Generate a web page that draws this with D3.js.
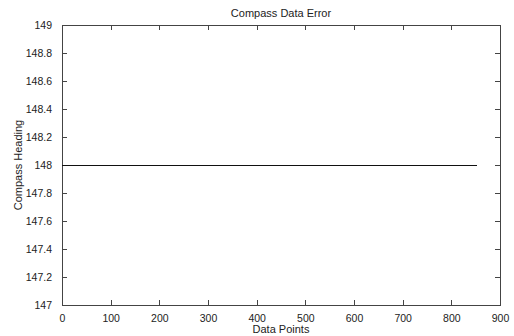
<!DOCTYPE html>
<html>
<head>
<meta charset="utf-8">
<script src="https://cdn.jsdelivr.net/npm/d3@7"></script>
<style>
  html, body { margin: 0; padding: 0; background: #fff; }
  text { font-family: "Liberation Sans", Arial, sans-serif; fill: #222; }
</style>
</head>
<body>
<div id="chart"></div>
<script>
// data: flat heading across all samples
const dataPoints = [1, 853];
const heading = [148, 148];
const xTicks = [0, 100, 200, 300, 400, 500, 600, 700, 800, 900];
const yTicks = [147, 147.2, 147.4, 147.6, 147.8, 148, 148.2, 148.4, 148.6, 148.8, 149];

const width = 514, height = 336;
const margin = { top: 25, right: 14, bottom: 31, left: 62 };
const innerW = width - margin.left - margin.right;
const innerH = height - margin.top - margin.bottom;

const svg = d3.select('#chart').append('svg')
  .attr('width', width)
  .attr('height', height);

const x = d3.scaleLinear().domain([0, 900]).range([margin.left, margin.left + innerW]);
const y = d3.scaleLinear().domain([147, 149]).range([margin.top + innerH, margin.top]);

const axisColor = '#444';
const fmt = d => String(+d.toFixed(1));

// box
svg.append('rect')
  .attr('x', margin.left).attr('y', margin.top)
  .attr('width', innerW).attr('height', innerH)
  .attr('fill', '#fff').attr('stroke', axisColor).attr('stroke-width', 1)
  .attr('shape-rendering', 'crispEdges');

function styleAxis(g) {
  g.select('.domain').remove();
  g.selectAll('line').attr('stroke', axisColor).attr('shape-rendering', 'crispEdges');
  g.selectAll('text').style('font-size', '10.5px').attr('fill', '#222');
}

// bottom / top
svg.append('g').attr('transform', `translate(0,${margin.top + innerH})`)
  .call(d3.axisBottom(x).tickValues(xTicks).tickSize(-5).tickPadding(10).tickFormat(fmt))
  .call(styleAxis);
svg.append('g').attr('transform', `translate(0,${margin.top})`)
  .call(d3.axisTop(x).tickValues(xTicks).tickSize(-5).tickFormat(''))
  .call(styleAxis);

// left / right
svg.append('g').attr('transform', `translate(${margin.left},0)`)
  .call(d3.axisLeft(y).tickValues(yTicks).tickSize(-5).tickPadding(10).tickFormat(fmt))
  .call(styleAxis);
svg.append('g').attr('transform', `translate(${margin.left + innerW},0)`)
  .call(d3.axisRight(y).tickValues(yTicks).tickSize(-5).tickFormat(''))
  .call(styleAxis);

// the series
const pts = dataPoints.map((d, i) => [d, heading[i]]);
svg.append('path')
  .datum(pts)
  .attr('fill', 'none')
  .attr('stroke', '#111')
  .attr('stroke-width', 1)
  .attr('shape-rendering', 'crispEdges')
  .attr('d', d3.line().x(d => x(d[0])).y(d => y(d[1])));

// labels
svg.append('text')
  .attr('x', margin.left + innerW / 2).attr('y', 17)
  .attr('text-anchor', 'middle').style('font-size', '11px')
  .text('Compass Data Error');

svg.append('text')
  .attr('x', margin.left + innerW / 2).attr('y', 333)
  .attr('text-anchor', 'middle').style('font-size', '11px')
  .text('Data Points');

svg.append('text')
  .attr('transform', `translate(22,${margin.top + innerH / 2}) rotate(-90)`)
  .attr('text-anchor', 'middle').style('font-size', '11px')
  .text('Compass Heading');
</script>
</body>
</html>
